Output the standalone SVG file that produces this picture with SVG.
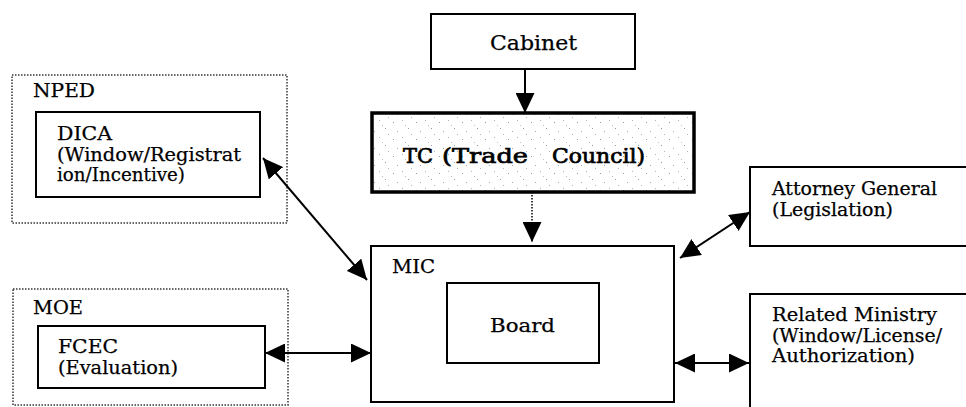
<svg xmlns="http://www.w3.org/2000/svg" width="966" height="407" viewBox="0 0 966 407">
  <defs>
    <style>
      .box { fill: #ffffff; stroke: #000000; stroke-width: 2; }
      .group { fill: none; stroke: #333333; stroke-width: 1.5; stroke-dasharray: 1.5 1.5; }
      .tc { stroke: #000000; stroke-width: 3.5; }
      .lbl { font-family: "DejaVu Serif", "Liberation Serif", serif; font-size: 19px; fill: #000000; stroke: #000000; stroke-width: 0.25; }
      .big { font-size: 21px; }
      .tight { font-size: 18px; }
      .heavy { stroke-width: 0.7; }
      .conn { fill: none; stroke: #000000; stroke-width: 2; }
      .dot { stroke-dasharray: 1.5 1.5; stroke-width: 1.5; }
    </style>
    <marker id="head" markerUnits="userSpaceOnUse" markerWidth="21" markerHeight="19"
            refX="20" refY="9.5" orient="auto-start-reverse" viewBox="0 0 21 19">
      <path d="M0,0 L20,9.5 L0,19 Z" fill="#000000"/>
    </marker>
    <!-- sparse grey speckle for the council box -->
    <pattern id="speckle" patternUnits="userSpaceOnUse" width="23" height="17">
      <rect width="23" height="17" fill="#ffffff"/>
      <rect x="2" y="3" width="1" height="1" fill="#9a9a9a"/>
      <rect x="11" y="1" width="1" height="1" fill="#b0b0b0"/>
      <rect x="17" y="9" width="1" height="1" fill="#9a9a9a"/>
      <rect x="6" y="12" width="1" height="1" fill="#a8a8a8"/>
      <rect x="20" y="15" width="1" height="1" fill="#b4b4b4"/>
      <rect x="14" y="6" width="1" height="1" fill="#c0c0c0"/>
    </pattern>
  </defs>

  <rect width="966" height="407" fill="#ffffff"/>

  <!-- outer agency groupings -->
  <g id="nped">
    <rect class="group" x="12" y="75" width="275" height="148"/>
    <text class="lbl" x="33" y="97" textLength="62" lengthAdjust="spacingAndGlyphs">NPED</text>
  </g>
  <g id="moe">
    <rect class="group" x="13" y="289" width="275" height="116"/>
    <text class="lbl" x="33" y="314" textLength="50" lengthAdjust="spacingAndGlyphs">MOE</text>
  </g>

  <g id="dica">
    <rect class="box" x="36" y="112" width="224" height="85"/>
    <text class="lbl" x="57" y="140" textLength="55" lengthAdjust="spacingAndGlyphs">DICA</text>
    <text class="lbl" x="57" y="161" textLength="184" lengthAdjust="spacingAndGlyphs">(Window/Registrat</text>
    <text class="lbl" x="57" y="181" textLength="128" lengthAdjust="spacingAndGlyphs">ion/Incentive)</text>
  </g>

  <g id="fcec">
    <rect class="box" x="38" y="326" width="227" height="62"/>
    <text class="lbl" x="58" y="353" textLength="60" lengthAdjust="spacingAndGlyphs">FCEC</text>
    <text class="lbl" x="58" y="374" textLength="120" lengthAdjust="spacingAndGlyphs">(Evaluation)</text>
  </g>

  <g id="cabinet">
    <rect class="box" x="431" y="14" width="204" height="55"/>
    <text class="lbl big" x="490" y="50" textLength="87" lengthAdjust="spacingAndGlyphs">Cabinet</text>
  </g>

  <g id="tc">
    <rect class="tc" x="372" y="113" width="322" height="79" fill="url(#speckle)"/>
    <text class="lbl big heavy" y="163">
      <tspan x="403" textLength="30" lengthAdjust="spacingAndGlyphs">TC</tspan>
      <tspan x="442" textLength="86" lengthAdjust="spacingAndGlyphs">(Trade</tspan>
      <tspan x="552" textLength="93" lengthAdjust="spacingAndGlyphs">Council)</tspan>
    </text>
  </g>

  <g id="mic">
    <rect class="box" x="371" y="246" width="303" height="156"/>
    <text class="lbl" x="392" y="273" textLength="43" lengthAdjust="spacingAndGlyphs">MIC</text>
  </g>

  <g id="board">
    <rect class="box" x="447" y="283" width="152" height="80"/>
    <text class="lbl" x="490" y="332" textLength="65" lengthAdjust="spacingAndGlyphs">Board</text>
  </g>

  <g id="attorney">
    <rect class="box" x="750" y="167" width="230" height="79"/>
    <text class="lbl tight" x="772" y="195" textLength="165" lengthAdjust="spacingAndGlyphs">Attorney General</text>
    <text class="lbl tight" x="772" y="216" textLength="121" lengthAdjust="spacingAndGlyphs">(Legislation)</text>
  </g>

  <g id="related">
    <rect class="box" x="750" y="294" width="230" height="130"/>
    <text class="lbl" x="772" y="321" textLength="165" lengthAdjust="spacingAndGlyphs">Related Ministry</text>
    <text class="lbl" x="772" y="342" textLength="170" lengthAdjust="spacingAndGlyphs">(Window/License/</text>
    <text class="lbl" x="772" y="362" textLength="143" lengthAdjust="spacingAndGlyphs">Authorization)</text>
  </g>

  <g id="connectors">
    <line class="conn" x1="525" y1="69" x2="525" y2="113" marker-end="url(#head)"/>
    <line class="conn dot" x1="532" y1="192" x2="532" y2="242" marker-end="url(#head)"/>
    <line class="conn" x1="263" y1="158" x2="367" y2="280" marker-start="url(#head)" marker-end="url(#head)"/>
    <line class="conn" x1="265" y1="353" x2="371" y2="353" marker-start="url(#head)" marker-end="url(#head)"/>
    <line class="conn" x1="680" y1="258" x2="750" y2="212" marker-start="url(#head)" marker-end="url(#head)"/>
    <line class="conn" x1="675" y1="363" x2="749" y2="363" marker-start="url(#head)" marker-end="url(#head)"/>
  </g>
</svg>
